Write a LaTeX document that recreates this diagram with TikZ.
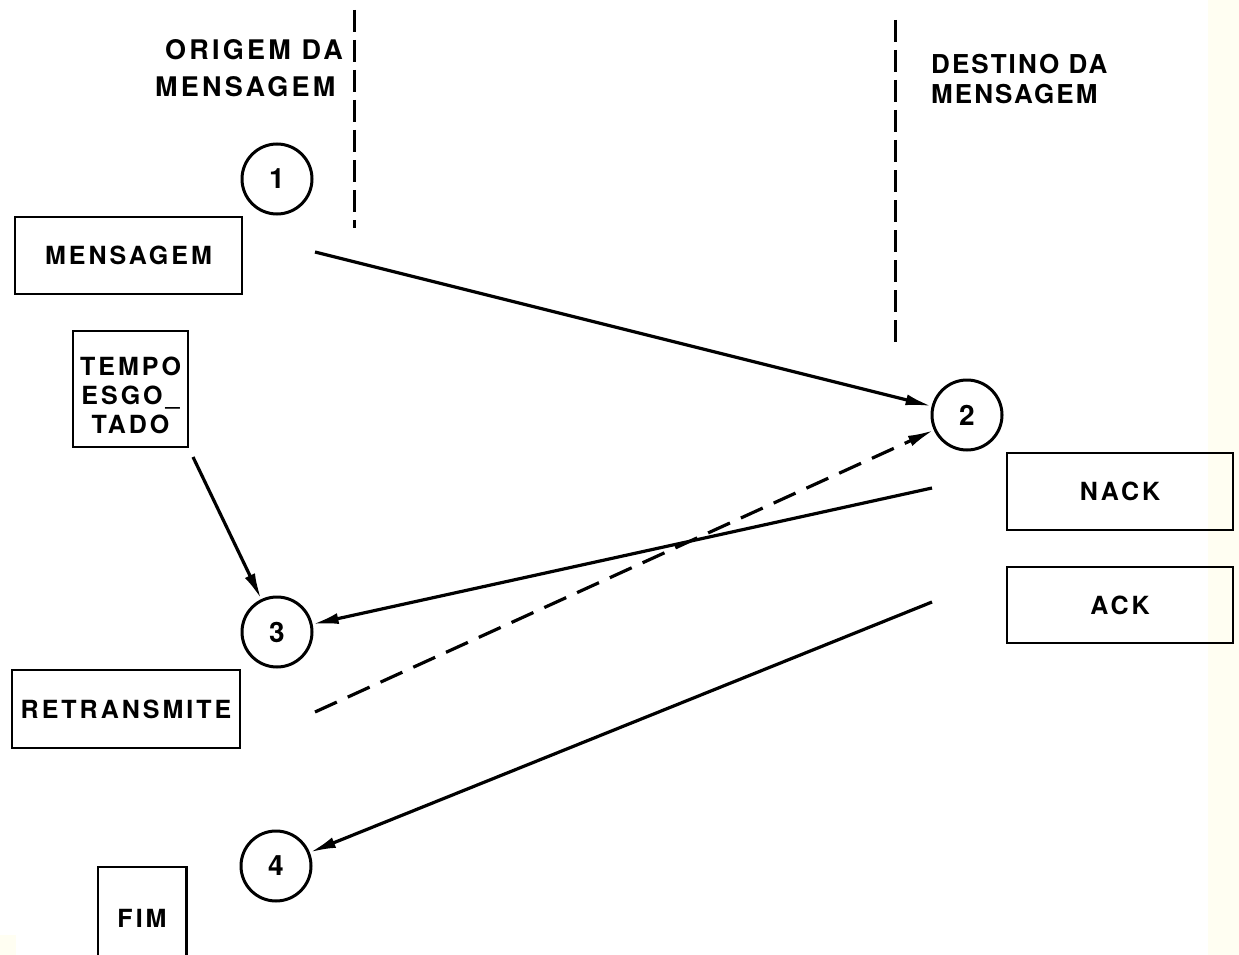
\documentclass[tikz,border=0pt]{standalone}
\usepackage{fontspec}
\setmainfont{TeX Gyre Heros}[LetterSpace=12]
\usetikzlibrary{arrows.meta}

\begin{document}
\begin{tikzpicture}[x=1pt,y=-1pt,
    lbl/.style={font=\fontsize{27}{31}\selectfont\bfseries, inner sep=0pt},
    boxtext/.style={inner sep=0pt, align=center, font=\fontsize{25}{29}\selectfont\bfseries},
    stepbox/.style={draw, line width=2.6pt, boxtext},
    state/.style={draw, circle, line width=3pt, minimum size=70pt, inner sep=0pt,
        font=\fontsize{28}{30}\selectfont\bfseries},
    flow/.style={line width=3.2pt, -{Latex[length=26pt,width=11pt]}},
    back/.style={flow, dash pattern=on 24pt off 12pt},
    side/.style={line width=3pt, dash pattern=on 22pt off 8pt}]

  % page area and the faint tinted edge of the sheet
  \useasboundingbox (0,0) rectangle (1239,955);
  \fill[white] (0,0) rectangle (1239,955);
  \fill[yellow!5] (1208,0) rectangle (1239,955);
  \fill[yellow!5] (0,935) rectangle (16,955);

  % boundaries between the two stations
  \coordinate (srcTop) at (354,10);
  \coordinate (srcBot) at (354,228);
  \coordinate (dstTop) at (895,20);
  \coordinate (dstBot) at (895,348);
  \draw[side] (srcTop) -- (srcBot);
  \draw[side] (dstTop) -- (dstBot);

  % station titles
  \node[lbl, anchor=west] (origA) at (165,50) {ORIGEM DA};
  \node[lbl, anchor=west] (origB) at (155,87) {MENSAGEM};
  \node[lbl, anchor=north west, align=left,
        font=\fontsize{26}{30}\selectfont\bfseries\addfontfeature{LetterSpace=8}]
        (dest) at (931,54) {DESTINO DA\\MENSAGEM};

  % numbered states
  \node[state] (s1) at (277,179) {1};
  \node[state] (s2) at (967,415) {2};
  \node[state] (s3) at (277,632) {3};
  \node[state] (s4) at (276,866) {4};

  % actions
  \node[stepbox, minimum width=227pt, minimum height=77pt] (msg) at (128.5,255.5) {MENSAGEM};
  \node[draw, line width=2.6pt, minimum width=115pt, minimum height=116pt] (tmo) at (130.5,389) {};
  \node[boxtext] (tmoText) at (130.5,395) {TEMPO\\ESGO\_\\TADO};
  \node[stepbox, minimum width=226pt, minimum height=77pt] (nack) at (1120,491.5) {NACK};
  \node[stepbox, minimum width=226pt, minimum height=76pt] (ack) at (1120,605) {ACK};
  \node[stepbox, minimum width=228pt, minimum height=78pt] (retx) at (126,709) {RETRANSMITE};
  \node[boxtext, minimum width=88pt, minimum height=110pt] (fim) at (142,922) {\raisebox{8pt}{FIM}};
  \draw[line width=2.6pt] (fim.south west) |- (fim.north east) -- (fim.south east);

  % free ends of the message arrows
  \coordinate (sendStart) at (315,252);
  \coordinate (retxStart) at (315,712);
  \coordinate (nackStart) at (932,488);
  \coordinate (ackStart) at (932,602);
  \coordinate (tmoStart) at (193,457);

  % message exchange
  \draw[flow] (sendStart) -- (s2);
  \draw[back] (retxStart) -- (s2);
  \draw[flow] (nackStart) -- (s3);
  \draw[flow] (ackStart) -- (s4);
  \draw[flow] (tmoStart) -- (s3);
\end{tikzpicture}
\end{document}
